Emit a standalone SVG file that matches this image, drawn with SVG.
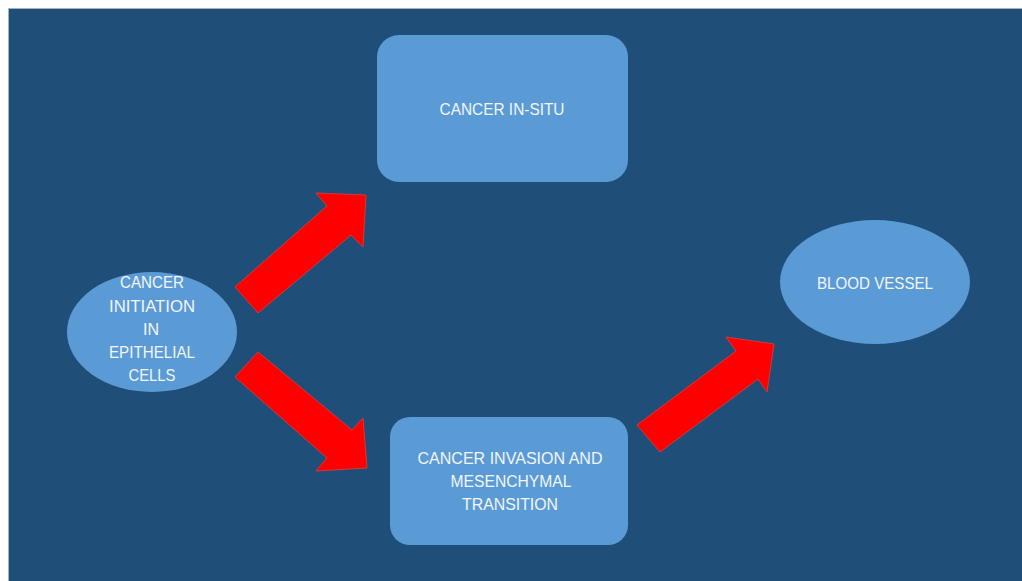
<svg xmlns="http://www.w3.org/2000/svg" width="1022" height="581" viewBox="0 0 1022 581">
<style>
.node{fill:#5B9BD5;}
.lbl{font-family:"Liberation Sans",Arial,sans-serif;font-size:16.5px;fill:#F2F5FA;text-anchor:middle;}
.arrow{fill:#FF0000;stroke:#D23A3A;stroke-width:1;stroke-linejoin:miter;}
</style>
<rect x="0" y="0" width="1022" height="581" fill="#FFFFFF"/>
<rect x="8.5" y="8.5" width="1020" height="580" fill="#1F4E79" stroke="#9FB4CC" stroke-width="1"/>
<g id="connectors">
<polygon class="arrow" points="235,287 327,206 316,193 366,195 363,247 351,235 258,313"/>
<polygon class="arrow" points="258,352 352,430 363,418 367,468 316,471 327,458 235,377"/>
<polygon class="arrow" points="637,425 736,351 726,337 774,344 767,392 758,379 660,452"/>
</g>
<g id="node-initiation">
<ellipse class="node" cx="152" cy="332" rx="85" ry="60"/>
<text class="lbl" x="152" y="288" textLength="64" lengthAdjust="spacingAndGlyphs">CANCER</text>
<text class="lbl" x="152" y="312" textLength="86" lengthAdjust="spacingAndGlyphs">INITIATION</text>
<text class="lbl" x="151" y="335" textLength="16" lengthAdjust="spacingAndGlyphs">IN</text>
<text class="lbl" x="152" y="358" textLength="86" lengthAdjust="spacingAndGlyphs">EPITHELIAL</text>
<text class="lbl" x="152" y="381" textLength="47" lengthAdjust="spacingAndGlyphs">CELLS</text>
</g>
<g id="node-insitu">
<rect class="node" x="377" y="35" width="251" height="147" rx="22" ry="22"/>
<text class="lbl" x="502" y="115" textLength="125" lengthAdjust="spacingAndGlyphs">CANCER IN-SITU</text>
</g>
<g id="node-invasion">
<rect class="node" x="390" y="417" width="238" height="128" rx="20" ry="20"/>
<text class="lbl" x="510" y="464" textLength="185" lengthAdjust="spacingAndGlyphs">CANCER INVASION AND</text>
<text class="lbl" x="511" y="487" textLength="121" lengthAdjust="spacingAndGlyphs">MESENCHYMAL</text>
<text class="lbl" x="510" y="510" textLength="96" lengthAdjust="spacingAndGlyphs">TRANSITION</text>
</g>
<g id="node-blood">
<ellipse class="node" cx="875" cy="282" rx="95" ry="62"/>
<text class="lbl" x="875" y="289" textLength="116" lengthAdjust="spacingAndGlyphs">BLOOD VESSEL</text>
</g>
</svg>
